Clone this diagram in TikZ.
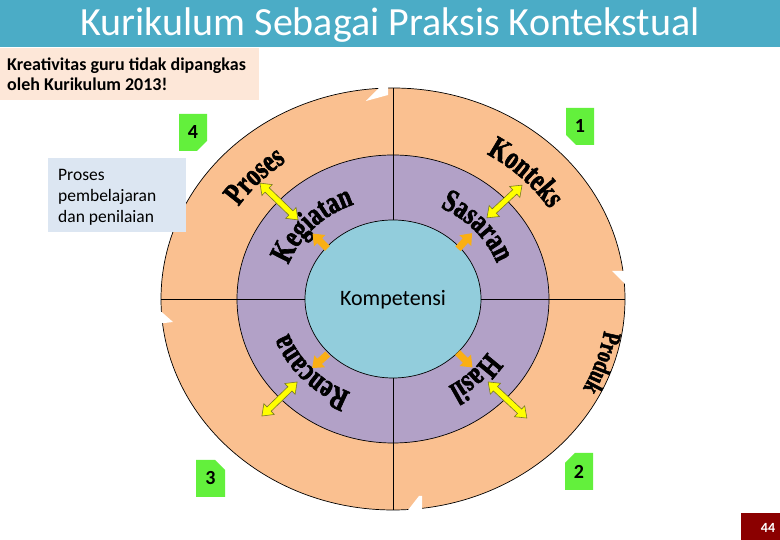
\documentclass[tikz,border=0pt]{standalone}
\usepackage{fontspec}
\setmainfont{Carlito}
\newfontfamily\ringfont{Liberation Serif}[FakeStretch=0.74, BoldFeatures={FakeStretch=0.74, FakeBold=2}]
\usetikzlibrary{decorations.text}
\definecolor{titleblue}{RGB}{75,172,198}
\definecolor{peachbox}{RGB}{253,231,216}
\definecolor{greybluebox}{RGB}{220,230,242}
\definecolor{ringorange}{RGB}{250,192,144}
\definecolor{ringpurple}{RGB}{178,161,199}
\definecolor{ringblue}{RGB}{146,205,220}
\definecolor{numgreen}{RGB}{99,240,60}
\definecolor{pagered}{RGB}{139,0,0}
\definecolor{arrowyellow}{RGB}{255,255,0}
\definecolor{arrowedge}{RGB}{120,120,40}
\definecolor{arroworange}{RGB}{250,175,20}
\newcommand\ringtxt{\ringfont\bfseries\fontsize{32}{34}\selectfont}
\newcommand\ringtxtsmall{\ringfont\bfseries\fontsize{26}{28}\selectfont}
\newcommand\ringlabel[6]{%
  \path[decorate, decoration={text along path, text align=center, text={|#6|#5}}]
    (C) ++(#1:#3 and #4) arc[start angle=#1, end angle=#2, x radius=#3, y radius=#4];}
\begin{document}
\begin{tikzpicture}[x=1pt, y=1pt,
  ringline/.style={draw=black, line width=0.7pt},
  numbox/.style={fill=numgreen},
  numtxt/.style={font=\bfseries\fontsize{20}{22}\selectfont, text=black},
  dblarrowstyle/.style={fill=arrowyellow, draw=arrowedge, line width=0.6pt},
  onearrowstyle/.style={fill=arroworange},
  pics/dblarrow/.style={code={
    \path[pic actions] (-#1/2,0) -- (-#1/2+10,7.5) -- (-#1/2+10,3) -- (#1/2-10,3)
      -- (#1/2-10,7.5) -- (#1/2,0) -- (#1/2-10,-7.5) -- (#1/2-10,-3)
      -- (-#1/2+10,-3) -- (-#1/2+10,-7.5) -- cycle;}},
  pics/onearrow/.style={code={
    \path[pic actions] (-#1/2,3.5) -- (#1/2-10,3.5) -- (#1/2-10,8) -- (#1/2,0)
      -- (#1/2-10,-8) -- (#1/2-10,-3.5) -- (-#1/2,-3.5) -- cycle;}}
]
\useasboundingbox (0,0) rectangle (780,540);
\fill[white] (0,0) rectangle (780,540);

% title bar
\fill[titleblue] (0,493) rectangle (780,540);
\node[anchor=base, text=white, font=\fontsize{40}{48}\selectfont, inner sep=0] (title) at (390,504) {Kurikulum Sebagai Praksis Kontekstual};

% note box
\fill[peachbox] (0,440) rectangle (259,492);
\node[anchor=base west, inner sep=0, font=\bfseries\fontsize{18}{20}\selectfont] (note1) at (7,469) {Kreativitas guru tidak dipangkas};
\node[anchor=base west, inner sep=0, font=\bfseries\fontsize{18}{20}\selectfont] (note2) at (7,449) {oleh Kurikulum 2013!};

% rings
\coordinate (C) at (393,241);
\path[fill=ringorange, ringline] (C) ellipse [x radius=232, y radius=211];
% notches in the outer ring
\fill[white] (366,439) -- (383,456) -- (388,456) -- (388,445) -- cycle;
\fill[white] (612,269) -- (632,269) -- (632,249) -- cycle;
\fill[white] (405,26) -- (419,44) -- (422,44) -- (422,26) -- cycle;
\fill[white] (156,233) -- (173,218) -- (156,216) -- cycle;

% Produk (clipped at the outer edge)
\begin{scope}
\clip (C) ellipse [x radius=232, y radius=211];
\ringlabel{12}{-48}{214}{195}{Produk}{\ringtxtsmall}
\end{scope}

\path[fill=ringpurple, ringline] (C) ellipse [x radius=156, y radius=144];
\draw[ringline] (393,30) -- (393,452);
\draw[ringline] (161,241) -- (625,241);
\path[fill=ringblue, ringline] (C) ellipse [x radius=88, y radius=79];

% ring texts
\ringlabel{177}{97}{185}{168}{Proses}{\ringtxt}
\ringlabel{85}{5}{185}{168}{Konteks}{\ringtxt}
\ringlabel{176}{96}{111}{101}{Kegiatan}{\ringtxt}
\ringlabel{82}{2}{111}{101}{Sasaran}{\ringtxt}
\ringlabel{-97}{-177}{111}{101}{Rencana}{\ringtxt}
\ringlabel{-5}{-85}{111}{101}{Hasil}{\ringtxt}

\node[anchor=base, inner sep=0, font=\fontsize{22}{24}\selectfont] (komp) at (393,234) {Kompetensi};

% yellow double arrows
\pic[dblarrowstyle, rotate=-44] at (279,338.5) {dblarrow=53};
\pic[dblarrowstyle, rotate=43] at (504.5,338.5) {dblarrow=48};
\pic[dblarrowstyle, rotate=44] at (279.5,141) {dblarrow=49};
\pic[dblarrowstyle, rotate=-43] at (507.5,140) {dblarrow=53};

% orange arrows
\pic[onearrowstyle, rotate=135] at (320,299) {onearrow=21};
\pic[onearrowstyle, rotate=48] at (465,299) {onearrow=21};
\pic[onearrowstyle, rotate=222] at (320,179) {onearrow=21};
\pic[onearrowstyle, rotate=-45] at (465,180) {onearrow=21};

% left text box
\fill[greybluebox] (48,308) rectangle (186,382);
\node[anchor=base west, inner sep=0, font=\fontsize{17.5}{20}\selectfont] (pp1) at (58,359) {Proses};
\node[anchor=base west, inner sep=0, font=\fontsize{17.5}{20}\selectfont] (pp2) at (58,338) {pembelajaran};
\node[anchor=base west, inner sep=0, font=\fontsize{17.5}{20}\selectfont] (pp3) at (58,317) {dan penilaian};

% number boxes
\path[numbox] (566,432) -- (594,432) -- (594,395) -- (576,395) -- (566,405) -- cycle;
\node[numtxt] (n1) at (580,413.5) {1};
\path[numbox] (179,426) -- (207,426) -- (207,399) -- (197,389) -- (179,389) -- cycle;
\node[numtxt] (n4) at (193,407.5) {4};
\path[numbox] (196,80) -- (215,80) -- (225,70) -- (225,43) -- (196,43) -- cycle;
\node[numtxt] (n3) at (210.5,61.5) {3};
\path[numbox] (575,87) -- (593,87) -- (593,50) -- (565,50) -- (565,77) -- cycle;
\node[numtxt] (n2) at (579,68.5) {2};

% page number
\fill[pagered] (741,0) rectangle (780,27);
\node[text=white, font=\bfseries\fontsize{14}{16}\selectfont, inner sep=0] (pnum) at (768,12) {44};
\end{tikzpicture}
\end{document}
